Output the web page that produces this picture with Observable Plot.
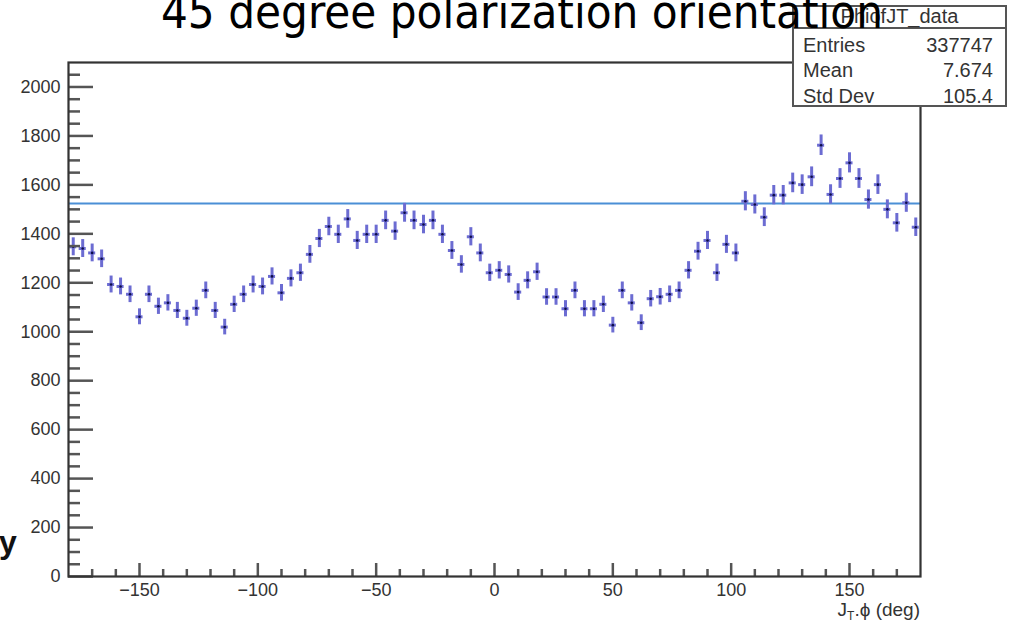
<!DOCTYPE html>
<html><head><meta charset="utf-8">
<script src="https://cdn.jsdelivr.net/npm/d3@7"></script>
<script src="https://cdn.jsdelivr.net/npm/@observablehq/plot@0.6"></script>
<style>
body{margin:0;background:#fff;}
#wrap{position:relative;width:1025px;height:627px;overflow:hidden;background:#fff;}
#chart{position:absolute;left:0;top:0;}
#stats{position:absolute;left:792px;top:5px;width:211px;height:98px;border:2px solid #555;background:#fff;font-family:"Liberation Sans",Arial,sans-serif;font-size:20px;color:#333;}
#stats .hd{position:absolute;left:0;right:0;top:0;height:20px;border-bottom:2px solid #555;text-align:center;line-height:19px;}
#stats .row{position:absolute;left:9px;right:12px;height:22px;line-height:22px;}
#stats .row span.v{position:absolute;right:0;}
#ttl{position:absolute;left:0;top:0;}
#ylab{position:absolute;left:-1px;top:524px;font-family:"Liberation Sans",Arial,sans-serif;font-weight:bold;font-size:32px;color:#111;}
#xlab{position:absolute;right:105px;top:599px;font-family:"Liberation Sans",Arial,sans-serif;font-size:19px;color:#333;}
#xlab sub{font-size:12px;vertical-align:-4px;}
</style></head>
<body>
<div id="wrap">
  <div id="chart"></div>
  <div id="stats">
    <div class="hd">PhiofJT_data</div>
    <div class="row" style="top:27px">Entries<span class="v">337747</span></div>
    <div class="row" style="top:52px">Mean<span class="v">7.674</span></div>
    <div class="row" style="top:78px">Std Dev<span class="v">105.4</span></div>
  </div>
  <svg id="ttl" width="1025" height="60"><text x="522" y="28" text-anchor="middle" font-family="DejaVu Sans Condensed" font-size="47" fill="#000">45 degree polarization orientation</text></svg>
  <div id="ylab">y</div>
  <div id="xlab">J<sub>T</sub>.ϕ (deg)</div>
</div>
<script>
// bin centers (4-degree bins from -180 to 180)
const binCenters = [-178,-174,-170,-166,-162,-158,-154,-150,-146,-142,-138,-134,-130,-126,-122,-118,-114,-110,-106,-102,-98,-94,-90,-86,-82,-78,-74,-70,-66,-62,-58,-54,-50,-46,-42,-38,-34,-30,-26,-22,-18,-14,-10,-6,-2,2,6,10,14,18,22,26,30,34,38,42,46,50,54,58,62,66,70,74,78,82,86,90,94,98,102,106,110,114,118,122,126,130,134,138,142,146,150,154,158,162,166,170,174,178];
const counts = [1347,1340,1322,1298,1193,1185,1153,1061,1153,1104,
  1118,1087,1055,1096,1169,1087,1019,1112,1153,1193,
  1185,1226,1159,1218,1241,1316,1381,1430,1398,1461,
  1373,1398,1398,1455,1411,1486,1455,1438,1455,1398,
  1332,1275,1388,1322,1241,1251,1234,1162,1210,1245,
  1142,1142,1094,1169,1094,1094,1112,1027,1169,1118,
  1037,1135,1143,1153,1169,1251,1329,1373,1241,1357,
  1322,1533,1520,1468,1558,1558,1608,1601,1633,1762,
  1561,1626,1690,1626,1540,1601,1500,1445,1527,1427];
const binWidth = 4;
const fitConstant = [1524];
const xMajorTicks = [-150,-100,-50,0,50,100,150];
const xMinorTicks = [-170,-160,-140,-130,-120,-110,-90,-80,-70,-60,-40,-30,-20,-10,10,20,30,40,60,70,80,90,110,120,130,140,160,170];
const yMajorTicks = [0,200,400,600,800,1000,1200,1400,1600,1800,2000];
const yMinorTicks = [50,100,150,250,300,350,450,500,550,650,700,750,850,900,950,1050,1100,1150,1250,1300,1350,1450,1500,1550,1650,1700,1750,1850,1900,1950,2050];

const data = binCenters.map((x, i) => ({x, v: counts[i], e: Math.sqrt(counts[i])}));

const W = 1025, H = 627, mL = 68, mR = 105, mT = 62, mB = 51;
const plotW = W - mL - mR, plotH = H - mT - mB;
const barColor = "#6c6cd2";
const tickColor = "#555";

const chart = Plot.plot({
  width: W, height: H,
  marginLeft: mL, marginRight: mR, marginTop: mT, marginBottom: mB,
  x: {domain: [-180, 180]},
  y: {domain: [0, 2100]},
  style: {fontFamily: "'Liberation Sans', Arial, sans-serif", fontSize: "18px", color: "#333", background: "white"},
  marks: [
    Plot.ruleY(fitConstant, {y: d => d, stroke: "#4b8fd6", strokeWidth: 2}),
    Plot.ruleX(data, {x: "x", y1: d => d.v - d.e, y2: d => d.v + d.e, stroke: barColor, strokeWidth: 3, clip: true}),
    Plot.ruleY(data, {y: "v", x1: d => d.x - binWidth / 2, x2: d => d.x + binWidth / 2, insetLeft: 1.2, insetRight: 1.2, stroke: barColor, strokeWidth: 3, clip: true}),
    Plot.dot(data, {x: "x", y: "v", r: 1.3, fill: "#0c0c48", stroke: "none", clip: true}),
    Plot.ruleX(xMajorTicks, {x: d => d, insetTop: plotH - 13, stroke: tickColor, strokeWidth: 2.5}),
    Plot.ruleX(xMinorTicks, {x: d => d, insetTop: plotH - 7, stroke: tickColor, strokeWidth: 2.5}),
    Plot.ruleY(yMajorTicks, {y: d => d, insetRight: plotW - 25, stroke: tickColor, strokeWidth: 2.5}),
    Plot.ruleY(yMinorTicks, {y: d => d, insetRight: plotW - 12, stroke: tickColor, strokeWidth: 2.5}),
    Plot.frame({stroke: "#333", strokeWidth: 2.2}),
    Plot.axisX({ticks: xMajorTicks, tickSize: 0, tickPadding: 7, label: null, tickFormat: d => d < 0 ? "\u2212" + (-d) : String(d)}),
    Plot.axisY({ticks: yMajorTicks, tickSize: 0, tickPadding: 8, label: null, tickFormat: d => String(d)})
  ]
});
document.getElementById("chart").appendChild(chart);
</script>
</body></html>
